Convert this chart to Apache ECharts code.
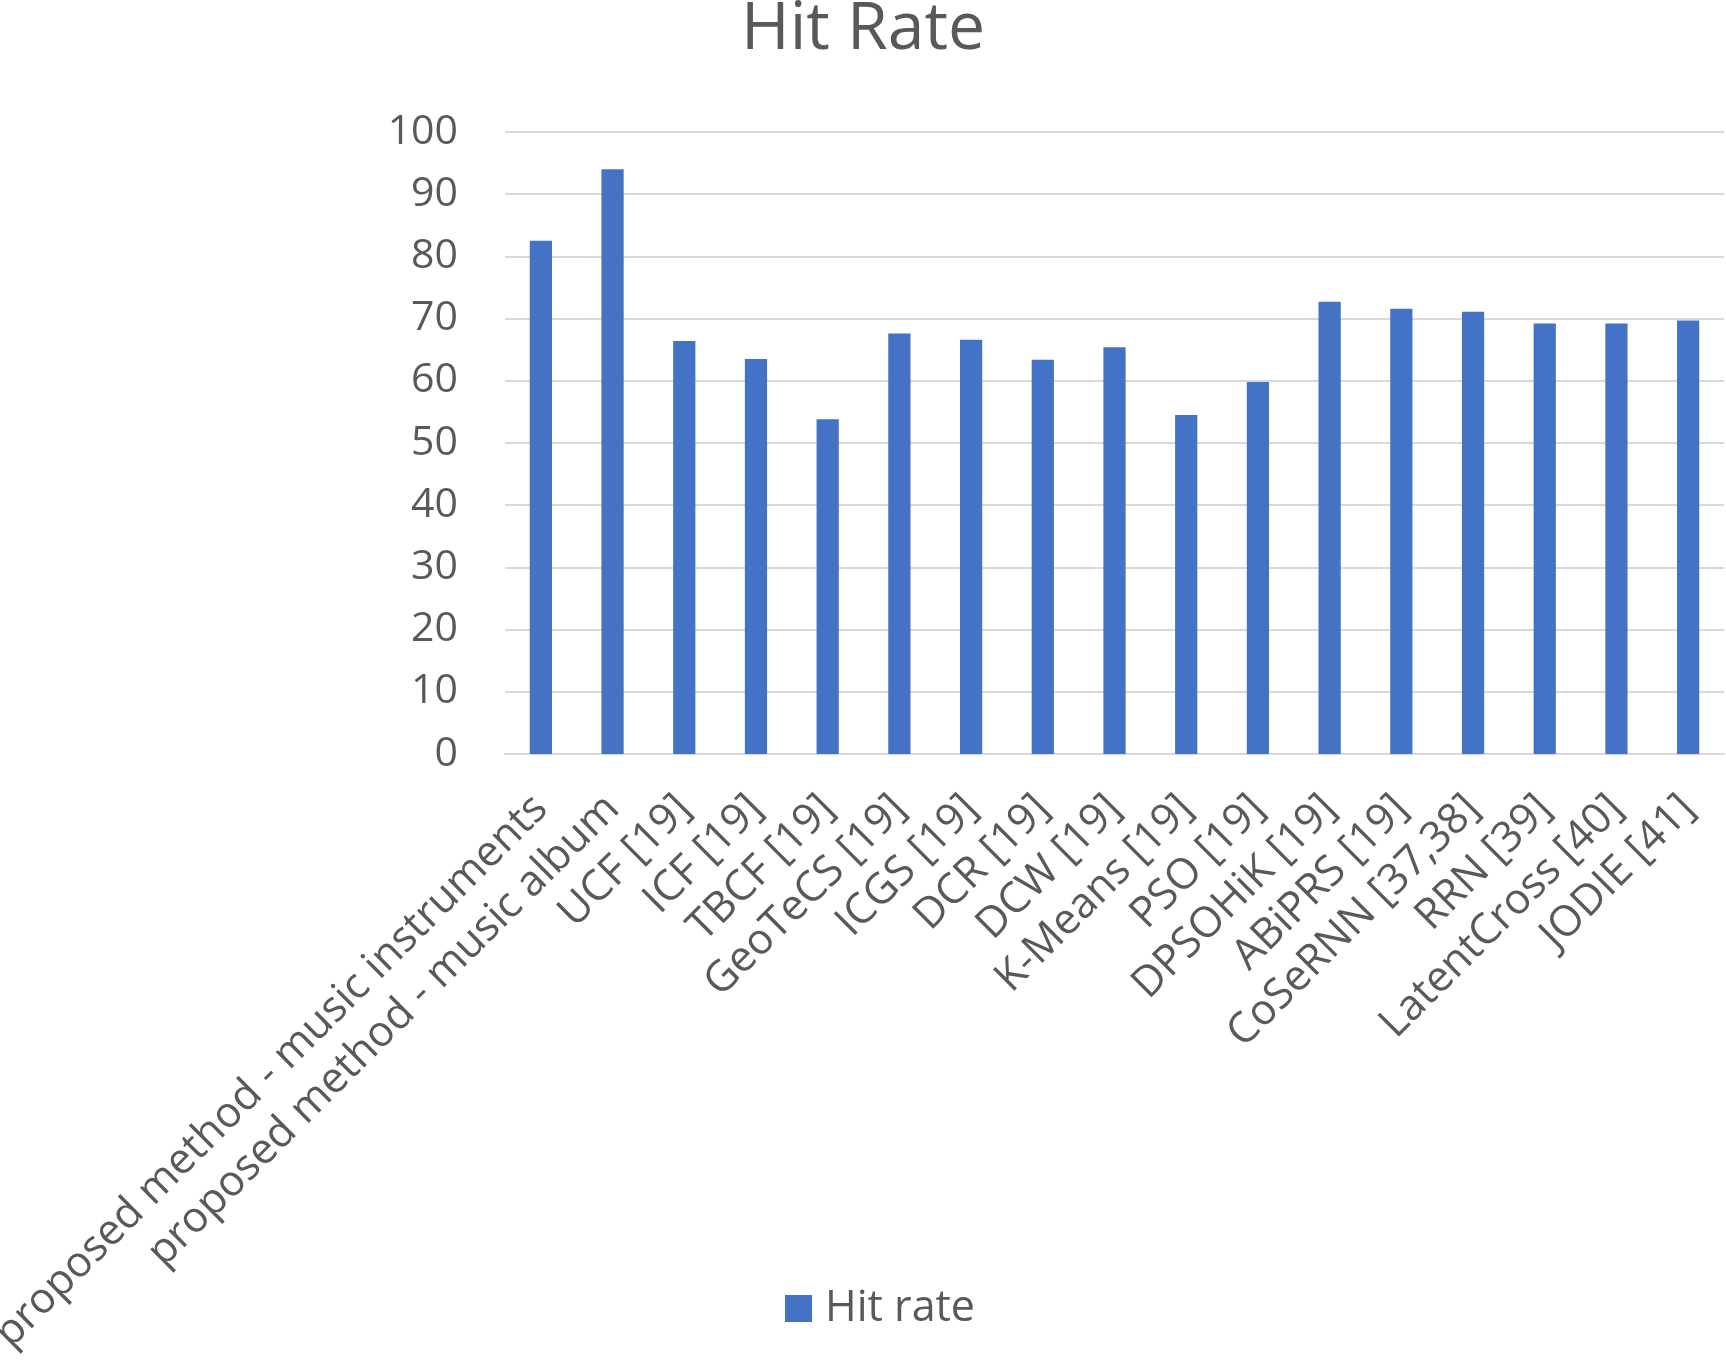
<!DOCTYPE html>
<html>
<head>
<meta charset="utf-8">
<script src="https://cdn.jsdelivr.net/npm/echarts@6/dist/echarts.min.js"></script>
<style>
html,body{margin:0;padding:0;background:#fff;}
#chart{width:1726px;height:1362px;}
</style>
</head>
<body>
<div id="chart"></div>
<script>
const categories = [
  'proposed method - music instruments',
  'proposed method - music album',
  'UCF [19]', 'ICF [19]', 'TBCF [19]', 'GeoTeCS [19]', 'ICGS [19]',
  'DCR [19]', 'DCW [19]', 'K-Means [19]', 'PSO [19]', 'DPSOHiK [19]',
  'ABiPRS [19]', 'CoSeRNN [37,38]', 'RRN [39]', 'LatentCross [40]', 'JODIE [41]'
];
const hitRate = [82.5, 94.0, 66.4, 63.5, 53.8, 67.6, 66.6, 63.4, 65.4, 54.5, 59.8, 72.7, 71.6, 71.1, 69.2, 69.2, 69.7];
const yTicks = { min: 0, max: 100, interval: 10 };

const FONT = '"Open Sans", "Noto Sans", sans-serif';
const TXT = '#595959';
const chart = echarts.init(document.getElementById('chart'), null, { renderer: 'canvas' });
chart.setOption({
  animation: false,
  backgroundColor: '#ffffff',
  title: {
    text: 'Hit Rate',
    left: 'center',
    top: -8,
    textStyle: { fontFamily: FONT, fontSize: 66, fontWeight: 'normal', color: TXT }
  },
  legend: {
    data: ['Hit rate'],
    left: 780,
    top: 1282,
    itemWidth: 27,
    itemHeight: 27,
    icon: 'rect',
    textStyle: { fontFamily: FONT, fontSize: 43, color: TXT, padding: [0, 0, 0, 8] }
  },
  grid: { left: 505, right: 2, top: 132, bottom: 608, containLabel: false, outerBoundsMode: 'none' },
  xAxis: {
    type: 'category',
    data: categories,
    axisLine: { show: true, lineStyle: { color: '#d9d9d9', width: 2 } },
    axisTick: { show: false },
    axisLabel: {
      interval: 0,
      rotate: 45,
      margin: 48,
      fontFamily: FONT,
      fontSize: 42.5,
      color: TXT
    }
  },
  yAxis: {
    type: 'value',
    min: yTicks.min,
    max: yTicks.max,
    interval: yTicks.interval,
    axisLine: { show: false },
    axisTick: { show: false },
    axisLabel: { margin: 47, fontFamily: FONT, fontSize: 41, color: TXT, padding: [6, 0, 0, 0] },
    splitLine: { lineStyle: { color: '#d9d9d9', width: 2 } }
  },
  series: [{
    name: 'Hit rate',
    type: 'bar',
    data: hitRate,
    barWidth: '31%',
    itemStyle: { color: '#4472C4' }
  }]
});
</script>
</body>
</html>
